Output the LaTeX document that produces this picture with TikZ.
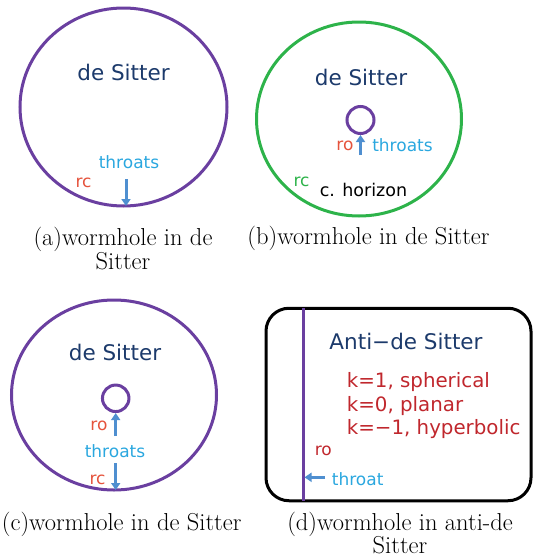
\documentclass[tikz,border=0pt]{standalone}
\usepackage{fontspec}
\newfontfamily\dvs{DejaVu Sans}
\usetikzlibrary{arrows.meta}
\definecolor{ppl}{HTML}{6A3FA0}
\definecolor{grn}{HTML}{2DB34A}
\definecolor{navy}{HTML}{1C3A6B}
\definecolor{lblue}{HTML}{2AA7DF}
\definecolor{ablue}{HTML}{4F8FD0}
\definecolor{rorange}{HTML}{E5533C}
\definecolor{dred}{HTML}{C0272D}
\tikzset{
  lbl/.style={inner sep=0pt, anchor=base, font=\dvs\fontsize{#1}{#1}\selectfont},
  dstitle/.style={lbl=21.5, text=navy},
  thr/.style={lbl=17, text=lblue},
  rlab/.style={lbl=17, text=rorange},
  captxt/.style={inner sep=0pt, anchor=base, font=\fontsize{24.5}{24.3}\selectfont},
  arr/.style={ablue, line width=3pt, -{Triangle[width=9pt,length=7pt]}},
  ring/.style={line width=3pt},
}
\begin{document}
\begin{tikzpicture}[x=1pt,y=-1pt]
\useasboundingbox (0,0) rectangle (533,557);
% (a)
\draw[ring, ppl] (123.5,107) ellipse [x radius=103.5, y radius=99];
\node[dstitle] (aT) at (123.5,80) {de Sitter};
\node[thr] (aThr) at (129,168.3) {throats};
\node[rlab] (aRc) at (83.5,187.3) {rc};
\coordinate (aS) at (126,179);
\coordinate (aE) at (126,206);
\draw[arr] (aS) -- (aE);
\node[captxt] (aCap) at (123,245) {(a)wormhole in de};
\node[captxt] (aCap2) at (123,269.3) {Sitter};
% (b)
\draw[ring, grn] (359,119) ellipse [x radius=102.5, y radius=97];
\node[dstitle] (bT) at (361,85) {de Sitter};
\node[circle, ring, draw=ppl, minimum size=27pt, inner sep=0pt] (bO) at (360.5,120) {};
\coordinate (bS) at (360.5,155);
\draw[arr] (bS) -- (bO.south);
\node[rlab] (bRo) at (345,150) {ro};
\node[thr] (bThr) at (402.5,151.7) {throats};
\node[lbl=17, text=grn] (bRc) at (301.5,186) {rc};
\node[lbl=17.5, text=black] (bH) at (363.5,196) {c. horizon};
\node[captxt] (bCap) at (368.5,244.3) {(b)wormhole in de Sitter};
% (c)
\draw[ring, ppl] (114,395) ellipse [x radius=102.5, y radius=95];
\node[dstitle] (cT) at (115,360) {de Sitter};
\node[circle, ring, draw=ppl, minimum size=26.5pt, inner sep=0pt] (cO) at (115.7,398.3) {};
\coordinate (cS1) at (115.7,436);
\draw[arr] (cS1) -- (cO.south);
\node[rlab] (cRo) at (99,430) {ro};
\node[thr] (cThr) at (115,457.3) {throats};
\coordinate (cS2) at (115.7,463);
\coordinate (cE2) at (115.7,490);
\draw[arr] (cS2) -- (cE2);
\node[rlab] (cRc) at (97.5,484) {rc};
\node[captxt] (cCap) at (121.7,530) {(c)wormhole in de Sitter};
% (d)
\node[draw, line width=3pt, rounded corners=23pt, minimum width=265pt, minimum height=192.5pt, inner sep=0pt] (dBox) at (398.5,404.5) {};
\coordinate (dTop) at (303.3,308.3);
\coordinate (dBot) at (303.3,500.7);
\draw[ppl, line width=3pt] (dTop) -- (dBot);
\node[lbl=21.5, text=navy] (dT) at (406,349) {Anti−de Sitter};
\node[lbl=19.8, text=dred, anchor=base west] (dK1) at (346.7,387.3) {k=1, spherical};
\node[lbl=19.8, text=dred, anchor=base west] (dK2) at (346.7,411) {k=0, planar};
\node[lbl=19.8, text=dred, anchor=base west] (dK3) at (346.7,434) {k=−1, hyperbolic};
\node[lbl=17, text=dred] (dRo) at (323.3,455.7) {ro};
\coordinate (dS) at (325,477.3);
\coordinate (dE) at (304.5,477.3);
\draw[arr] (dS) -- (dE);
\node[thr, anchor=base west] (dThr) at (331.7,485) {throat};
\node[captxt] (dCap) at (400,530.7) {(d)wormhole in anti-de};
\node[captxt] (dCap2) at (400,553.5) {Sitter};
\end{tikzpicture}
\end{document}
